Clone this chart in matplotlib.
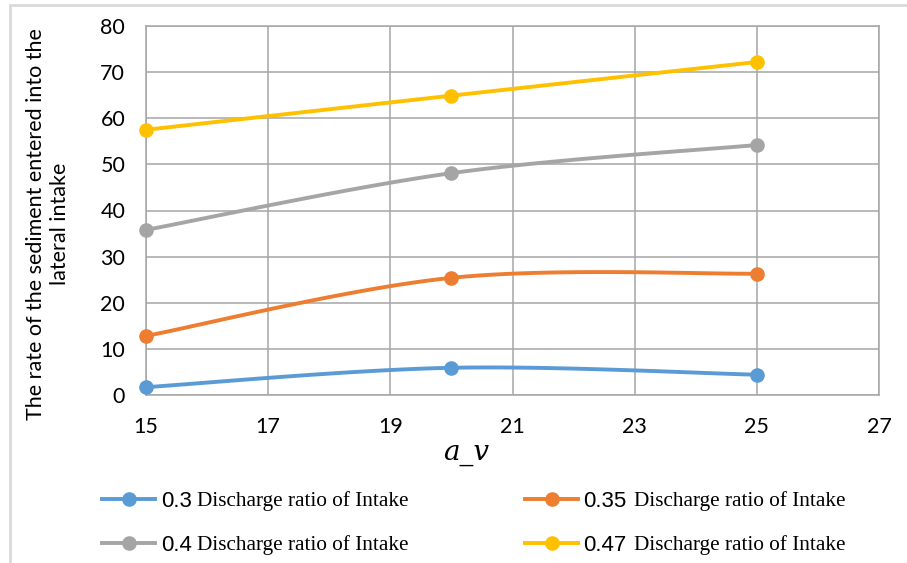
import numpy as np
import matplotlib
matplotlib.use("Agg")
import matplotlib.pyplot as plt
from matplotlib.lines import Line2D
from matplotlib.patches import Rectangle

# Data
a_v = [15, 20, 25]
ratios = ["0.3", "0.35", "0.4", "0.47"]
sediment_03 = [1.7, 5.9, 4.4]
sediment_035 = [12.8, 25.4, 26.3]
sediment_04 = [35.8, 48.1, 54.2]
sediment_047 = [57.5, 64.9, 72.2]
colors = ["#5B9BD5", "#ED7D31", "#A5A5A5", "#FFC000"]
x_ticks = [15, 17, 19, 21, 23, 25, 27]
y_ticks = [0, 10, 20, 30, 40, 50, 60, 70, 80]
series = [sediment_03, sediment_035, sediment_04, sediment_047]
legend_suffix = "Discharge ratio of Intake"


def smooth(xs, ys, n=60):
    """Cardinal (Catmull-Rom style) Bezier smoothing through the points."""
    p = np.column_stack([xs, ys]).astype(float)
    ext = np.vstack([p[0], p, p[-1]])
    out = [p[:1]]
    t = np.linspace(0, 1, n)[1:, None]
    for i in range(len(p) - 1):
        p0, p1, p2, p3 = ext[i], ext[i + 1], ext[i + 2], ext[i + 3]
        c1 = p1 + (p2 - p0) / 6.0
        c2 = p2 - (p3 - p1) / 6.0
        seg = ((1 - t) ** 3) * p1 + 3 * ((1 - t) ** 2) * t * c1 \
            + 3 * (1 - t) * t ** 2 * c2 + t ** 3 * p2
        out.append(seg)
    pts = np.vstack(out)
    return pts[:, 0], pts[:, 1]


W, H = 907, 563
fig = plt.figure(figsize=(W / 100, H / 100), dpi=100)
fig.patch.set_facecolor("white")

# outer chart frame
fig.add_artist(Rectangle((10 / W, -0.05), 1.2, 1 - 5 / H + 0.05,
                         transform=fig.transFigure, fill=False,
                         edgecolor="#d9d9d9", linewidth=2))

ax = fig.add_axes([146 / W, 1 - 395 / H, (879 - 146) / W, (395 - 26) / H])
ax.set_xlim(15, 27)
ax.set_ylim(0, 80)
ax.set_xticks(x_ticks)
ax.set_yticks(y_ticks)
ax.grid(True, color="#a6a6a6", linewidth=1.1)
ax.set_axisbelow(True)
for s in ax.spines.values():
    s.set_color("#a6a6a6")
    s.set_linewidth(1.1)
ax.tick_params(length=0, labelsize=15.5, colors="black")
ax.tick_params(axis="x", pad=16)
ax.tick_params(axis="y", pad=15)
for lab in ax.get_xticklabels() + ax.get_yticklabels():
    lab.set_fontfamily("Lato")

for ys, c in zip(series, colors):
    sx, sy = smooth(a_v, ys)
    ax.plot(sx, sy, color=c, linewidth=2.8, solid_capstyle="round", zorder=3)
    ax.plot(a_v, ys, linestyle="none", marker="o", markersize=9.5,
            color=c, zorder=4, clip_on=False)

fig.text(466 / W, 1 - 452 / H, "a_v", ha="center", va="center",
         fontsize=20, fontfamily="DejaVu Serif", fontstyle="italic")
fig.text(48 / W, 1 - 224 / H,
         "The rate of the sediment entered into the\nlateral intake",
         rotation=90, ha="center", va="center", fontsize=15.5,
         fontfamily="Lato", linespacing=1.3)

# legend, drawn in figure pixels
fig.canvas.draw()
renderer = fig.canvas.get_renderer()
rows = [499, 543]
cols = [(102, 155, 161), (525, 578, 583)]
for i, (ratio, c) in enumerate(zip(ratios, colors)):
    col = cols[i % 2]
    row = rows[i // 2]
    yf = 1 - row / H
    fig.add_artist(Line2D([col[0] / W, col[1] / W], [yf, yf],
                          transform=fig.transFigure, color=c, linewidth=2.8))
    fig.add_artist(Line2D([(col[0] + col[1]) / 2 / W], [yf],
                          transform=fig.transFigure, color=c, marker="o",
                          markersize=9.5, linestyle="none"))
    t1 = fig.text(col[2] / W, yf, ratio, ha="left", va="center_baseline",
                  fontsize=16, fontfamily="Liberation Sans")
    bb = t1.get_window_extent(renderer)
    gap = 5 if len(ratio) < 4 else 8
    fig.text((bb.x1 + gap) / W, yf, legend_suffix, ha="left",
             va="center_baseline", fontsize=15.3,
             fontfamily="Liberation Serif")

fig.savefig("out.png", dpi=100, facecolor="white")
